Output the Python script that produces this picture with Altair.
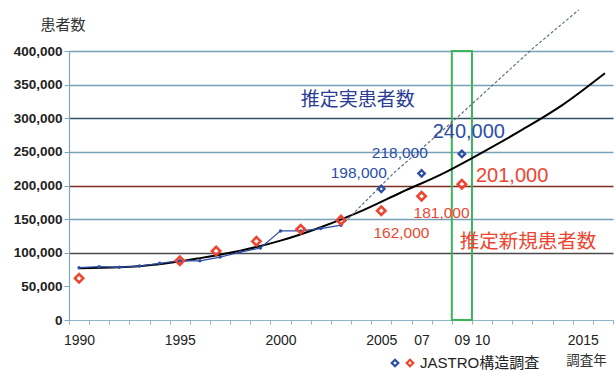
import altair as alt
import pandas as pd

# ---------------- data ----------------
# JASTRO surveyed (blue line, 1990-2003)
blue_years = [1990, 1991, 1992, 1993, 1994, 1995, 1996, 1997, 1998, 1999, 2000, 2001, 2002, 2003]
blue_vals = [77800, 79300, 78300, 80300, 84300, 88200, 88000, 93500, 101000, 107000, 132500, 132500, 136000, 141000]

# estimated actual patients (blue open diamonds)
blue_d_years = [2005, 2007, 2009]
blue_d_vals = [195000, 218000, 247000]

# estimated new patients (red open diamonds)
red_years = [1990, 1995, 1996.8, 1998.8, 2001, 2003, 2005, 2007, 2009]
red_vals = [62000, 88000, 102500, 117000, 135000, 148500, 162500, 184000, 202000]

# fitted curve (solid black)
curve_years = [1990, 1992, 1994, 1996, 1998, 2000, 2002, 2004, 2006, 2008, 2010, 2012, 2014, 2016.1]
curve_vals = [77000, 78500, 83000, 92000, 103000, 118000, 138000, 162000, 190000, 217000, 249000, 283000, 320000, 367000]

# trend (dotted)
trend_years = [2003, 2005.6, 2008.8, 2012.6, 2014.8]
trend_vals = [140000, 218000, 302000, 406000, 461000]

# annotations (text, anchor year, anchor value)
blue_big_txt = ["推定実患者数"]
blue_big_x = [2001.0]
blue_big_y = [327000]

blue_num_big_txt = ["240,000"]
blue_num_big_x = [2007.55]
blue_num_big_y = [280000]

blue_num_txt = ["218,000", "198,000"]
blue_num_x = [2004.53, 2002.49]
blue_num_y = [248000, 218600]

red_num_big_txt = ["201,000"]
red_num_big_x = [2009.7]
red_num_big_y = [214000]

red_num_txt = ["181,000", "162,000"]
red_num_x = [2006.6, 2004.61]
red_num_y = [158600, 129800]

red_big_txt = ["推定新規患者数"]
red_big_x = [2008.9]
red_big_y = [116500]

highlight_x0 = [2008.5]
highlight_x1 = [2009.5]
highlight_y0 = [0]
highlight_y1 = [400000]

x_label_years = [1990, 1995, 2000, 2005, 2007, 2009, 2010, 2015]
y_ticks = [0, 50000, 100000, 150000, 200000, 250000, 300000, 350000, 400000]

# ---------------- styling ----------------
BLUE = "#2c4ea6"
BLUE_DARK = "#2a3c98"
RED = "#ee4530"
CJK = "Noto Sans CJK JP"
LAT = "Liberation Sans"

W, H = 544, 269
x_dom = [1989.5, 2016.5]

boundaries = [1989.5 + i for i in range(28)]
x_vals = sorted(boundaries + x_label_years)

xscale = alt.Scale(domain=x_dom, nice=False, zero=False)
yscale = alt.Scale(domain=[0, 400000], nice=False)

label_expr = ("datum.value % 1 !== 0 ? '' : datum.value == 2007 ? '07' : "
              "datum.value == 2009 ? '09' : datum.value == 2010 ? '10' : format(datum.value, 'd')")

x_axis = alt.Axis(
    values=x_vals, labelExpr=label_expr, grid=False,
    domainColor="#8fb5c9", domainWidth=1.2,
    tickColor={"condition": {"test": "datum.value % 1 !== 0", "value": "#8fb5c9"}, "value": "transparent"},
    tickSize=4, labelPadding=9, labelFontSize=14, labelColor="#222", labelFont=LAT,
    labelFlush=False, labelOverlap=False,
    title="調査年", titleFont=CJK, titleFontSize=13.5, titleFontWeight="normal", titleColor="#333",
    titleX=517, titleY=40, titleAlign="center", titleBaseline="middle", titleAngle=0,
)

grid_color = {
    "condition": [
        {"test": "datum.value === 300000", "value": "#2f5262"},
        {"test": "datum.value === 200000", "value": "#7a2e22"},
        {"test": "datum.value === 100000", "value": "#4a4a4a"},
        {"test": "datum.value === 50000", "value": "transparent"},
        {"test": "datum.value === 0", "value": "transparent"},
    ],
    "value": "#76a1b8",
}

y_axis = alt.Axis(
    values=y_ticks, format=",d", grid=True, gridColor=grid_color, gridWidth=1.3,
    domainColor="#7fa7bf", domainWidth=1.2, tickColor="#7fa7bf", tickSize=5,
    labelPadding=2, labelFontSize=13.5, labelFontWeight="bold", labelColor="#222", labelFont=LAT,
    title="患者数", titleFont=CJK, titleFontSize=15, titleFontWeight="normal", titleColor="#333",
    titleAngle=0, titleX=-6.5, titleY=-27, titleAlign="center", titleBaseline="middle",
)

# ---------------- layers ----------------
df_blue = pd.DataFrame({"year": blue_years, "val": blue_vals})
df_bd = pd.DataFrame({"year": blue_d_years, "val": blue_d_vals})
df_red = pd.DataFrame({"year": red_years, "val": red_vals})
df_curve = pd.DataFrame({"year": curve_years, "val": curve_vals})
df_trend = pd.DataFrame({"year": trend_years, "val": trend_vals})
df_hl = pd.DataFrame({"year": highlight_x0, "year2": highlight_x1, "val": highlight_y0, "val2": highlight_y1})

X = lambda: alt.X("year:Q", scale=xscale, axis=x_axis)
Y = lambda: alt.Y("val:Q", scale=yscale, axis=y_axis)

blue_line = alt.Chart(df_blue).mark_line(color=BLUE, strokeWidth=1.2, point=alt.OverlayMarkDef(filled=True, size=12, color=BLUE, opacity=1)).encode(x=X(), y=Y())

curve = alt.Chart(df_curve).mark_line(color="#000", strokeWidth=2, interpolate="monotone").encode(x=X(), y=Y())

trend = alt.Chart(df_trend).mark_line(color="#5f7480", strokeWidth=1.2, strokeDash=[3, 2], clip=False).encode(x=X(), y=Y())

red_pts = alt.Chart(df_red).mark_point(shape="diamond", filled=False, color=RED, size=70, strokeWidth=2.6, opacity=1).encode(x=X(), y=Y())

blue_pts = alt.Chart(df_bd).mark_point(shape="diamond", filled=False, color=BLUE, size=42, strokeWidth=2.3, opacity=1).encode(x=X(), y=Y())

hl = alt.Chart(df_hl).mark_rect(fill=None, stroke="#3cb55a", strokeWidth=2).encode(
    x=X(), x2="year2:Q",
    y=Y(), y2="val2:Q",
)


def text_layer(txt, xs, ys, color, size, font):
    d = pd.DataFrame({"t": txt, "year": xs, "val": ys})
    return alt.Chart(d).mark_text(align="left", baseline="middle", color=color, fontSize=size, font=font, clip=False).encode(
        x=X(), y=Y(), text="t:N")


t1 = text_layer(blue_big_txt, blue_big_x, blue_big_y, BLUE_DARK, 19, CJK)
t2 = text_layer(blue_num_big_txt, blue_num_big_x, blue_num_big_y, BLUE, 20, LAT)
t3 = text_layer(blue_num_txt, blue_num_x, blue_num_y, BLUE, 15.5, LAT)
t4 = text_layer(red_num_big_txt, red_num_big_x, red_num_big_y, RED, 20, LAT)
t5 = text_layer(red_num_txt, red_num_x, red_num_y, RED, 15.5, LAT)
t6 = text_layer(red_big_txt, red_big_x, red_big_y, RED, 19.5, CJK)

# legend (manual)
leg_df = pd.DataFrame({"k": ["JASTRO構造調査"]})
leg_blue = alt.Chart(leg_df).mark_point(shape="diamond", filled=False, color=BLUE, size=42, strokeWidth=2.3, opacity=1, clip=False).encode(
    x=alt.value(326), y=alt.value(312))
leg_red = alt.Chart(leg_df).mark_point(shape="diamond", filled=False, color=RED, size=42, strokeWidth=2.3, opacity=1, clip=False).encode(
    x=alt.value(341), y=alt.value(312))
leg_txt = alt.Chart(leg_df).mark_text(align="left", baseline="middle", fontSize=15, color="#222",
                                      font=LAT + ", " + CJK, clip=False).encode(
    x=alt.value(351), y=alt.value(312), text="k:N")

chart = alt.layer(
    hl, curve, trend, blue_line, red_pts, blue_pts,
    t1, t2, t3, t4, t5, t6, leg_blue, leg_red, leg_txt,
).properties(
    width=W, height=H,
    autosize=alt.AutoSizeParams(type="none"),
    padding={"left": 69, "top": 51, "right": 3, "bottom": 56},
    background="white",
).configure_view(stroke=None)

chart.save("out.html", embed_options={"renderer": "svg", "actions": False})
